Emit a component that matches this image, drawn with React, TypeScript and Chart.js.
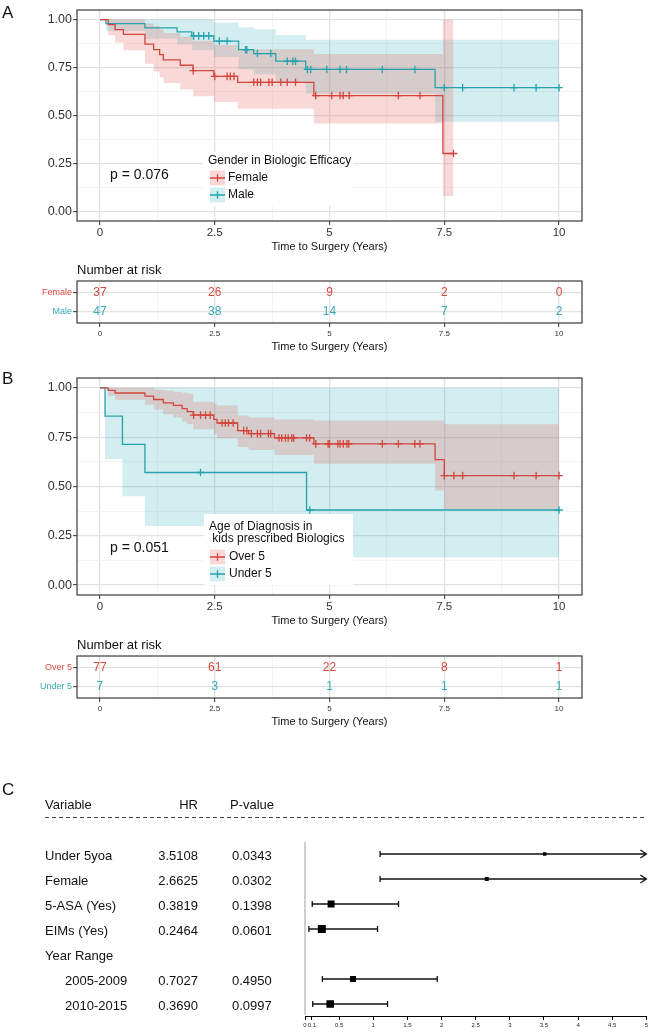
import React, { useEffect, useRef } from 'react';
import { Chart, registerables } from 'chart.js';

Chart.register(...registerables);

const FONT = '"Liberation Sans", Arial, Helvetica, sans-serif';
Chart.defaults.font.family = FONT;

/* ---------------- Panel A : Gender in Biologic Efficacy ---------------- */
const femaleEventTimes = [0.18, 0.33, 0.51, 0.98, 1.17, 1.30, 1.38, 1.75, 2.03, 2.48, 3.00, 4.66, 7.47];
const femaleSurv = [0.974, 0.948, 0.923, 0.872, 0.843, 0.817, 0.790, 0.762, 0.734, 0.704, 0.673, 0.604, 0.302];
const femaleLower = [0.92, 0.88, 0.84, 0.77, 0.73, 0.70, 0.67, 0.635, 0.60, 0.57, 0.535, 0.458, 0.08];
const femaleUpper = [1.0, 1.0, 1.0, 0.98, 0.965, 0.948, 0.93, 0.91, 0.89, 0.868, 0.845, 0.82, 1.0];
const femaleCensorTimes = [2.03, 2.50, 2.77, 2.84, 2.92, 3.35, 3.43, 3.50, 3.68, 3.75, 3.94, 4.08, 4.26, 4.70, 5.05, 5.23, 5.30, 5.43, 6.50, 6.97, 7.70];

const maleEventTimes = [0.13, 0.98, 1.68, 2.00, 2.48, 3.02, 3.35, 3.83, 4.48, 7.30];
const maleSurv = [0.979, 0.957, 0.936, 0.915, 0.888, 0.843, 0.823, 0.783, 0.740, 0.645];
const maleLower = [0.94, 0.90, 0.87, 0.84, 0.805, 0.74, 0.715, 0.67, 0.613, 0.468];
const maleUpper = [1.0, 1.0, 1.0, 1.0, 0.985, 0.96, 0.95, 0.92, 0.895, 0.895];
const maleCensorTimes = [2.04, 2.15, 2.26, 2.37, 2.60, 2.77, 3.17, 3.20, 3.43, 3.72, 4.08, 4.20, 4.26, 4.52, 4.59, 4.94, 5.23, 5.37, 6.15, 6.86, 7.50, 7.90, 9.02, 9.50, 10.0];

/* ---------------- Panel B : Age of Diagnosis ---------------- */
const over5EventTimes = [0.18, 0.33, 0.98, 1.17, 1.38, 1.60, 1.79, 1.90, 2.03, 2.48, 2.55, 3.00, 3.24, 3.80, 4.66, 7.30, 7.50];
const over5Surv = [0.987, 0.974, 0.958, 0.941, 0.924, 0.911, 0.895, 0.880, 0.862, 0.840, 0.822, 0.783, 0.768, 0.746, 0.716, 0.636, 0.555];
const over5Lower = [0.96, 0.94, 0.915, 0.89, 0.866, 0.85, 0.83, 0.815, 0.79, 0.765, 0.745, 0.70, 0.685, 0.66, 0.615, 0.48, 0.385];
const over5Upper = [1.0, 1.0, 1.0, 0.99, 0.985, 0.98, 0.975, 0.97, 0.93, 0.92, 0.91, 0.86, 0.85, 0.84, 0.835, 0.835, 0.815];
const over5CensorTimes = [2.04, 2.19, 2.30, 2.40, 2.66, 2.73, 2.80, 2.90, 3.13, 3.20, 3.30, 3.43, 3.50, 3.67, 3.72, 3.90, 3.96, 4.04, 4.10, 4.18, 4.22, 4.50, 4.57, 4.70, 4.97, 5.00, 5.18, 5.23, 5.30, 5.38, 5.42, 6.15, 6.50, 6.86, 6.97, 7.50, 7.71, 7.90, 9.02, 9.50, 10.0];

const under5EventTimes = [0.11, 0.49, 0.98, 4.50];
const under5Surv = [0.857, 0.714, 0.571, 0.381];
const under5Lower = [0.64, 0.45, 0.30, 0.14];
const under5Upper = [1.0, 1.0, 1.0, 1.0];
const under5CensorTimes = [2.19, 4.57, 10.0];

/* ---------------- Numbers at risk ---------------- */
const riskTimes = [0, 2.5, 5, 7.5, 10];
const femaleAtRisk = [37, 26, 9, 2, 0];
const maleAtRisk = [47, 38, 14, 7, 2];
const over5AtRisk = [77, 61, 22, 8, 1];
const under5AtRisk = [7, 3, 1, 1, 1];

/* ---------------- Axis ticks ---------------- */
const kmXGrid = [0, 1.25, 2.5, 3.75, 5, 6.25, 7.5, 8.75, 10];
const kmXLabels = [0, 2.5, 5, 7.5, 10];
const kmYGrid = [0, 0.125, 0.25, 0.375, 0.5, 0.625, 0.75, 0.875, 1];
const kmYLabels = [0, 0.25, 0.5, 0.75, 1];

/* ---------------- Panel C : Cox model ---------------- */
const forestLabels = ['Under 5yoa', 'Female', '5-ASA (Yes)', 'EIMs (Yes)', 'Year Range', '2005-2009', '2010-2015'];
const forestIndent = [0, 0, 0, 0, 0, 1, 1];
const forestHR = [3.5108, 2.6625, 0.3819, 0.2464, null, 0.7027, 0.3690];
const forestP = [0.0343, 0.0302, 0.1398, 0.0601, null, 0.4950, 0.0997];
const forestLow = [1.10, 1.10, 0.106, 0.057, null, 0.255, 0.113];
const forestHigh = [11.23, 6.46, 1.37, 1.062, null, 1.937, 1.209];
const forestTicks = [0, 0.1, 0.5, 1, 1.5, 2, 2.5, 3, 3.5, 4, 4.5, 5];

/* ---------------- colours ---------------- */
const RED = '#D3463C';
const TEAL = '#26A2AC';
const RED_BAND = 'rgba(226, 84, 74, 0.22)';
const TEAL_BAND = 'rgba(30, 172, 182, 0.2)';
const RED_TEXT = '#D9493F';
const TEAL_TEXT = '#35A9B4';
const GRID_MAJOR = '#e2e2e2';
const GRID_MINOR = '#f1f1f1';

function isIn(v: number, list: number[]) {
  return list.some((l) => Math.abs(l - v) < 1e-9);
}

function stepPoints(times: number[], values: number[], end: number) {
  const pts = [{ x: 0, y: 1 }];
  let prev = 1;
  times.forEach((t, i) => {
    pts.push({ x: t, y: prev });
    pts.push({ x: t, y: values[i] });
    prev = values[i];
  });
  if (end > times[times.length - 1]) pts.push({ x: end, y: prev });
  return pts;
}

function survAt(times: number[], surv: number[], t: number) {
  let s = 1;
  times.forEach((tt, i) => {
    if (tt <= t + 1e-9) s = surv[i];
  });
  return s;
}

function gridOpts(majors: number[]) {
  const maj = (c: any) => (c && c.tick ? isIn(c.tick.value, majors) : true);
  return {
    color: (c: any) => (maj(c) ? GRID_MAJOR : GRID_MINOR),
    lineWidth: (c: any) => (maj(c) ? 1.3 : 0.8),
    tickColor: (c: any) => (maj(c) ? '#333' : 'rgba(0,0,0,0)'),
    tickLength: 4,
    tickWidth: 1,
  };
}

const panelBorder = {
  id: 'panelBorder',
  afterDraw(chart: any) {
    const { ctx, chartArea: a } = chart;
    ctx.save();
    ctx.strokeStyle = '#3a3a3a';
    ctx.lineWidth = 1.2;
    ctx.strokeRect(a.left, a.top, a.right - a.left, a.bottom - a.top);
    ctx.restore();
  },
};

const kmDecor = {
  id: 'kmDecor',
  afterDatasetsDraw(chart: any, _args: any, o: any) {
    const { ctx, chartArea: a } = chart;
    ctx.save();
    ctx.fillStyle = '#fff';
    ctx.fillRect(a.left + o.box.x, a.top + o.box.y, o.box.w, o.box.h);
    ctx.textBaseline = 'middle';
    ctx.textAlign = 'left';
    ctx.fillStyle = '#111';
    ctx.font = `12px ${FONT}`;
    o.title.forEach((line: string, i: number) => {
      ctx.fillText(line, a.left + o.titleX, a.top + o.titleY + i * o.titleGap);
    });
    o.items.forEach((it: any, i: number) => {
      const cy = a.top + o.itemY + i * o.itemGap;
      const kx = a.left + o.keyX;
      ctx.fillStyle = it.band;
      ctx.fillRect(kx, cy - 7.5, 15, 15);
      ctx.strokeStyle = it.line;
      ctx.lineWidth = 1.3;
      ctx.beginPath();
      ctx.moveTo(kx, cy);
      ctx.lineTo(kx + 15, cy);
      ctx.moveTo(kx + 7.5, cy - 3.8);
      ctx.lineTo(kx + 7.5, cy + 3.8);
      ctx.stroke();
      ctx.fillStyle = '#111';
      ctx.fillText(it.label, a.left + o.textX, cy);
    });
    ctx.font = `14px ${FONT}`;
    ctx.fillText(o.p, a.left + o.pX, a.top + o.pY);
    ctx.restore();
  },
};

const riskText = {
  id: 'riskText',
  afterDatasetsDraw(chart: any, _args: any, o: any) {
    const { ctx, chartArea: a } = chart;
    ctx.save();
    ctx.font = `12px ${FONT}`;
    ctx.textAlign = 'center';
    ctx.textBaseline = 'middle';
    chart.data.datasets.forEach((ds: any, di: number) => {
      const meta = chart.getDatasetMeta(di);
      ctx.fillStyle = o.colors[di];
      meta.data.forEach((el: any, i: number) => {
        ctx.fillText(String(ds.data[i].n), el.x, el.y);
      });
    });
    ctx.fillStyle = '#111';
    ctx.font = `13px ${FONT}`;
    ctx.textAlign = 'left';
    ctx.fillText('Number at risk', a.left, a.top - 11);
    ctx.restore();
  },
};

type Group = {
  times: number[];
  surv: number[];
  lower: number[];
  upper: number[];
  censor: number[];
  line: string;
  band: string;
};

function kmConfig(groups: Group[], decor: any) {
  const datasets: any[] = [];
  const endOf = (g: Group) => Math.max(g.times[g.times.length - 1], ...g.censor);
  groups.forEach((g) => {
    const end = endOf(g);
    datasets.push({
      type: 'line', data: stepPoints(g.times, g.upper, end), borderColor: 'rgba(0,0,0,0)',
      borderWidth: 0, pointRadius: 0, fill: false, order: 2,
    });
    datasets.push({
      type: 'line', data: stepPoints(g.times, g.lower, end), borderColor: 'rgba(0,0,0,0)',
      borderWidth: 0, pointRadius: 0, fill: '-1', backgroundColor: g.band, order: 2,
    });
  });
  groups.forEach((g) => {
    datasets.push({
      type: 'line', data: stepPoints(g.times, g.surv, endOf(g)), borderColor: g.line,
      borderWidth: 1.3, pointRadius: 0, fill: false, order: 1,
    });
  });
  groups.forEach((g) => {
    datasets.push({
      type: 'scatter', data: g.censor.map((t) => ({ x: t, y: survAt(g.times, g.surv, t) })),
      pointStyle: 'cross', pointRadius: 3.8, borderColor: g.line, borderWidth: 1.3, order: 0,
    });
  });
  return {
    type: 'line',
    data: { datasets },
    options: {
      responsive: false,
      animation: false,
      events: [],
      layout: { padding: { top: 10, right: 70, left: 0, bottom: 0 } },
      plugins: { legend: { display: false }, tooltip: { enabled: false }, kmDecor: decor },
      scales: {
        x: {
          type: 'linear', min: -0.5, max: 10.5,
          afterBuildTicks: (ax: any) => { ax.ticks = kmXGrid.map((v) => ({ value: v })); },
          ticks: {
            callback: (v: number) => (isIn(v, kmXLabels) ? String(v) : ''),
            font: { size: 11.5 }, color: '#333', padding: 0.5, maxRotation: 0, autoSkip: false,
          },
          grid: gridOpts(kmXLabels),
          border: { display: false },
          title: { display: true, text: 'Time to Surgery (Years)', font: { size: 11 }, color: '#111', padding: { top: 0, bottom: 2.2 } },
          afterFit: (s: any) => { s.height = 35; },
        },
        y: {
          type: 'linear', min: -0.05, max: 1.05,
          afterBuildTicks: (ax: any) => { ax.ticks = kmYGrid.map((v) => ({ value: v })); },
          ticks: {
            callback: (v: number) => (isIn(v, kmYLabels) ? v.toFixed(2) : ''),
            font: { size: 12.5 }, color: '#333', padding: 1, autoSkip: false,
          },
          grid: gridOpts(kmYLabels),
          border: { display: false },
          afterFit: (s: any) => { s.width = 77; },
        },
      },
    },
    plugins: [kmDecor, panelBorder],
  };
}

function riskConfig(rows: { label: string; counts: number[]; color: string }[]) {
  const datasets = rows.map((r, i) => ({
    type: 'scatter',
    data: riskTimes.map((t, j) => ({ x: t, y: i, n: r.counts[j] })),
    pointRadius: 0,
  }));
  return {
    type: 'scatter',
    data: { datasets },
    options: {
      responsive: false,
      animation: false,
      events: [],
      layout: { padding: { top: 23, right: 70, left: 0, bottom: 0 } },
      plugins: { legend: { display: false }, tooltip: { enabled: false }, riskText: { colors: rows.map((r) => r.color) } },
      scales: {
        x: {
          type: 'linear', min: -0.5, max: 10.5,
          afterBuildTicks: (ax: any) => { ax.ticks = kmXGrid.map((v) => ({ value: v })); },
          ticks: {
            callback: (v: number) => (isIn(v, kmXLabels) ? String(v) : ''),
            font: { size: 8 }, color: '#333', padding: 1.5, maxRotation: 0, autoSkip: false,
          },
          grid: gridOpts(kmXLabels),
          border: { display: false },
          title: { display: true, text: 'Time to Surgery (Years)', font: { size: 11 }, color: '#111', padding: { top: 0, bottom: 4 } },
          afterFit: (s: any) => { s.height = 35; },
        },
        y: {
          type: 'linear', reverse: true, min: -0.6, max: rows.length - 0.4,
          afterBuildTicks: (ax: any) => { ax.ticks = rows.map((_, i) => ({ value: i })); },
          ticks: {
            callback: (v: number) => (rows[v] ? rows[v].label : ''),
            color: (c: any) => (rows[c.index] ? rows[c.index].color : '#333'),
            font: { size: 9 }, padding: 1, autoSkip: false,
          },
          grid: { color: GRID_MAJOR, lineWidth: 1.3, tickColor: '#333', tickLength: 4, tickWidth: 1 },
          border: { display: false },
          afterFit: (s: any) => { s.width = 77; },
        },
      },
    },
    plugins: [riskText, panelBorder],
  };
}

const forestDraw = {
  id: 'forestDraw',
  beforeDatasetsDraw(chart: any) {
    const { ctx, chartArea: a, scales } = chart;
    const x = scales.x;
    const y = scales.y;
    ctx.save();
    const x0 = x.getPixelForValue(0);
    ctx.strokeStyle = '#cfcfcf';
    ctx.lineWidth = 2;
    ctx.beginPath();
    ctx.moveTo(x0, a.top);
    ctx.lineTo(x0, a.bottom - 1);
    ctx.stroke();
    ctx.strokeStyle = '#111';
    ctx.lineWidth = 1.3;
    forestHR.forEach((hr, i) => {
      if (hr == null) return;
      const py = y.getPixelForValue(i);
      const lo = forestLow[i] as number;
      const hi = forestHigh[i] as number;
      const x1 = x.getPixelForValue(lo);
      const clipped = hi > x.max;
      const x2 = x.getPixelForValue(Math.min(hi, x.max));
      ctx.beginPath();
      ctx.moveTo(x1, py);
      ctx.lineTo(x2, py);
      ctx.moveTo(x1, py - 3);
      ctx.lineTo(x1, py + 3);
      if (clipped) {
        ctx.moveTo(x2 - 6, py - 4);
        ctx.lineTo(x2, py);
        ctx.lineTo(x2 - 6, py + 4);
      } else {
        ctx.moveTo(x2, py - 3);
        ctx.lineTo(x2, py + 3);
      }
      ctx.stroke();
    });
    ctx.restore();
  },
  afterDraw(chart: any) {
    const { ctx, scales } = chart;
    const y = scales.y;
    ctx.save();
    ctx.font = `13px ${FONT}`;
    ctx.fillStyle = '#111';
    ctx.textBaseline = 'middle';
    ctx.textAlign = 'left';
    ctx.fillText('Variable', 45, 35);
    ctx.textAlign = 'right';
    ctx.fillText('HR', 198, 35);
    ctx.textAlign = 'left';
    ctx.fillText('P-value', 230, 35);
    ctx.strokeStyle = '#444';
    ctx.lineWidth = 1;
    ctx.setLineDash([4, 3]);
    ctx.beginPath();
    ctx.moveTo(45, 47.5);
    ctx.lineTo(647, 47.5);
    ctx.stroke();
    ctx.setLineDash([]);
    forestLabels.forEach((lab, i) => {
      const py = y.getPixelForValue(i) + 2;
      ctx.textAlign = 'left';
      ctx.fillText(lab, 45 + 20 * forestIndent[i], py);
      const hr = forestHR[i];
      if (hr != null) {
        ctx.textAlign = 'right';
        ctx.fillText(hr.toFixed(4), 198, py);
        ctx.textAlign = 'left';
        ctx.fillText((forestP[i] as number).toFixed(4), 232, py);
      }
    });
    ctx.restore();
  },
};

function forestConfig() {
  const pts: any[] = [];
  const radii: number[] = [];
  forestHR.forEach((hr, i) => {
    if (hr == null) return;
    pts.push({ x: hr, y: i });
    const side = 3 + 5 / ((forestHigh[i] as number) - (forestLow[i] as number));
    radii.push(side / Math.SQRT2);
  });
  return {
    type: 'scatter',
    data: {
      datasets: [{ data: pts, pointStyle: 'rect', pointRadius: radii, backgroundColor: '#000', borderColor: '#000', borderWidth: 0 }],
    },
    options: {
      responsive: false,
      animation: false,
      events: [],
      layout: { padding: { left: 305, right: 4, top: 72, bottom: 0 } },
      plugins: { legend: { display: false }, tooltip: { enabled: false } },
      scales: {
        x: {
          type: 'linear', min: 0, max: 5,
          afterBuildTicks: (ax: any) => { ax.ticks = forestTicks.map((v) => ({ value: v })); },
          ticks: { autoSkip: false, maxRotation: 0, font: { size: 6 }, color: '#222', padding: 2, callback: (v: number) => String(v) },
          grid: { drawOnChartArea: false, color: '#000', tickColor: '#000', tickLength: 4, tickWidth: 1 },
          border: { display: true, color: '#000', width: 1 },
          afterFit: (s: any) => { s.height = 18; },
        },
        y: { type: 'linear', display: false, reverse: true, min: -0.48, max: 6.48 },
      },
    },
    plugins: [forestDraw],
  };
}

function ChartBox({ make, left, top, width, height }: any) {
  const ref = useRef<HTMLCanvasElement>(null);
  useEffect(() => {
    const chart = new Chart(ref.current as HTMLCanvasElement, make());
    return () => chart.destroy();
  }, []);
  return (
    <div style={{ position: 'absolute', left, top, width, height }}>
      <canvas ref={ref} width={width} height={height} style={{ width, height, display: 'block' }} />
    </div>
  );
}

function Letter({ text, x, cy }: any) {
  return (
    <div style={{ position: 'absolute', left: x, top: cy - 8.3, fontSize: 17, lineHeight: '17px', fontFamily: FONT, color: '#111' }}>
      {text}
    </div>
  );
}

const groupsA: Group[] = [
  { times: femaleEventTimes, surv: femaleSurv, lower: femaleLower, upper: femaleUpper, censor: femaleCensorTimes, line: RED, band: RED_BAND },
  { times: maleEventTimes, surv: maleSurv, lower: maleLower, upper: maleUpper, censor: maleCensorTimes, line: TEAL, band: TEAL_BAND },
];
const groupsB: Group[] = [
  { times: over5EventTimes, surv: over5Surv, lower: over5Lower, upper: over5Upper, censor: over5CensorTimes, line: RED, band: RED_BAND },
  { times: under5EventTimes, surv: under5Surv, lower: under5Lower, upper: under5Upper, censor: under5CensorTimes, line: TEAL, band: TEAL_BAND },
];

const decorA = {
  box: { x: 126, y: 142, w: 150, h: 54 },
  title: ['Gender in Biologic Efficacy'],
  titleX: 131, titleY: 151, titleGap: 12,
  items: [
    { label: 'Female', line: RED, band: RED_BAND },
    { label: 'Male', line: TEAL, band: TEAL_BAND },
  ],
  itemY: 168, itemGap: 17, keyX: 133, textX: 151,
  p: 'p = 0.076', pX: 33, pY: 165,
};
const decorB = {
  box: { x: 127, y: 136, w: 149, h: 71 },
  title: ['Age of Diagnosis in', ' kids prescribed Biologics'],
  titleX: 132, titleY: 149, titleGap: 12,
  items: [
    { label: 'Over 5', line: RED, band: RED_BAND },
    { label: 'Under 5', line: TEAL, band: TEAL_BAND },
  ],
  itemY: 179, itemGap: 17, keyX: 133, textX: 152,
  p: 'p = 0.051', pX: 33, pY: 170,
};

export default function App() {
  return (
    <div style={{ position: 'absolute', left: 0, top: 0, width: 652, height: 1034, background: '#fff', overflow: 'hidden' }}>
      <ChartBox left={0} top={0} width={652} height={256} make={() => kmConfig(groupsA, decorA)} />
      <ChartBox
        left={0} top={258} width={652} height={100}
        make={() => riskConfig([
          { label: 'Female', counts: femaleAtRisk, color: RED_TEXT },
          { label: 'Male', counts: maleAtRisk, color: TEAL_TEXT },
        ])}
      />
      <ChartBox left={0} top={368} width={652} height={262} make={() => kmConfig(groupsB, decorB)} />
      <ChartBox
        left={0} top={633} width={652} height={100}
        make={() => riskConfig([
          { label: 'Over 5', counts: over5AtRisk, color: RED_TEXT },
          { label: 'Under 5', counts: under5AtRisk, color: TEAL_TEXT },
        ])}
      />
      <ChartBox left={0} top={770} width={652} height={264} make={forestConfig} />
      <Letter text="A" x={2} cy={12.5} />
      <Letter text="B" x={2} cy={378.5} />
      <Letter text="C" x={2} cy={789} />
    </div>
  );
}
